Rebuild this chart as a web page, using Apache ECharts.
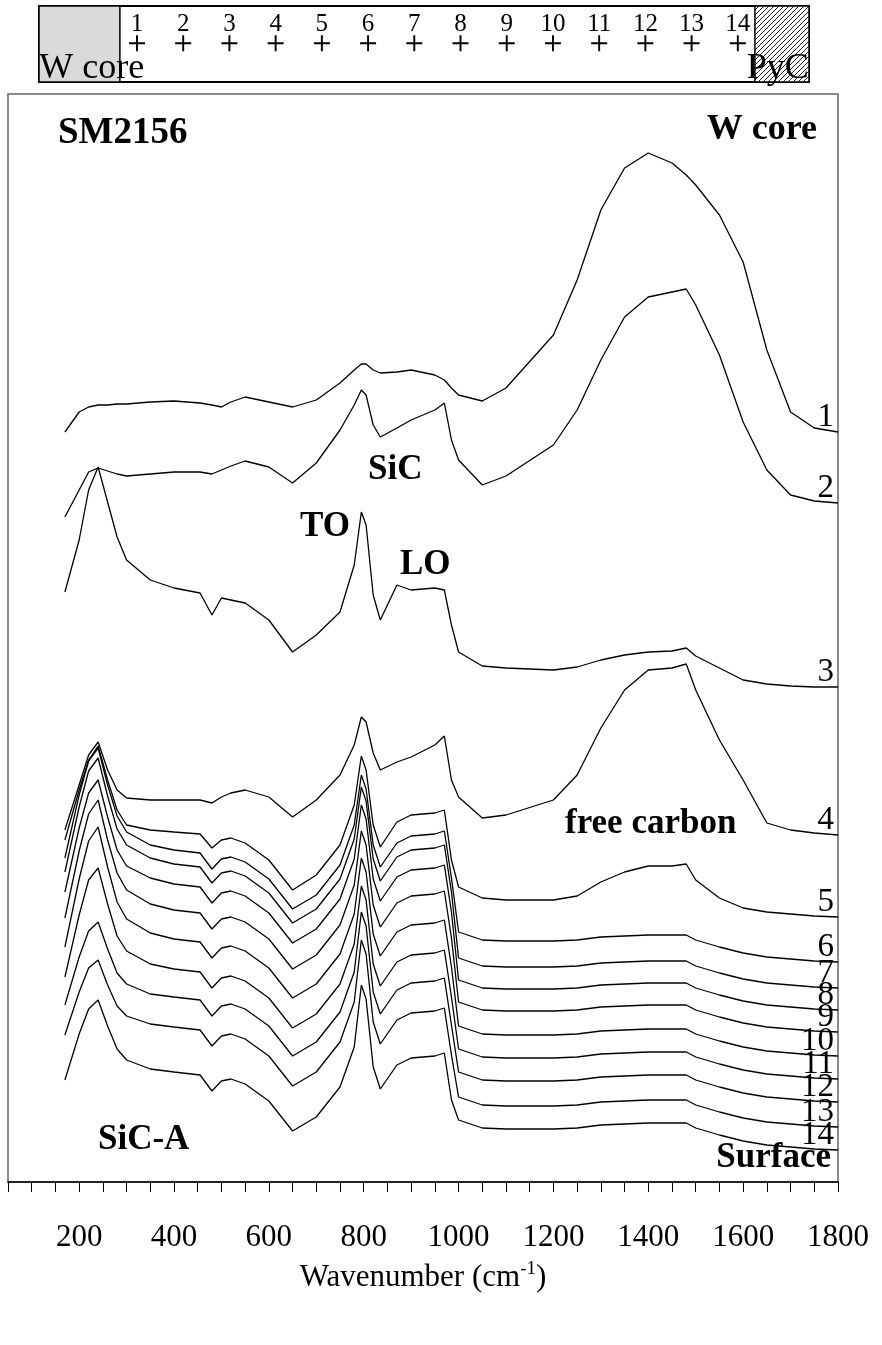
<!DOCTYPE html>
<html>
<head>
<meta charset="utf-8">
<script src="https://cdn.jsdelivr.net/npm/echarts@6/dist/echarts.min.js"></script>
<style>
  html, body { margin: 0; padding: 0; background: #fff; }
  #chart { width: 882px; height: 1345px; }
</style>
</head>
<body>
<div id="chart"></div>
<script>
// Raman shift grid (cm-1) shared by all spectra
const wavenumber = [170, 200, 220, 240, 260, 280, 300, 350, 400, 455, 480, 500, 520, 550, 600, 650, 700, 750, 780, 795, 805, 820, 835, 870, 900, 950, 970, 985, 1000, 1050, 1100, 1200, 1250, 1300, 1350, 1400, 1450, 1480, 1500, 1550, 1600, 1650, 1700, 1750, 1800];

// Offset intensities (a.u.), spectrum 1 = next to the W core, 14 = surface
const spectrum1  = [750,770,775,777,777,778,778,780,781,779,777,775,780,785,780,775,782,799,812,818,818,812,809,810,812,807,802,794,787,781,794,847,902,972,1014,1029,1019,1007,997,967,920,832,770,754,750];
const spectrum2  = [665,692,710,714,711,708,706,708,710,710,708,712,716,721,715,699,719,752,777,792,787,757,745,754,762,772,779,742,722,697,706,737,772,822,865,885,890,893,877,827,760,712,687,681,679];
const spectrum3  = [590,642,692,715,680,645,622,602,594,589,567,584,582,579,562,530,547,570,617,670,657,587,562,597,592,594,592,557,530,516,514,512,515,522,527,530,531,534,526,514,502,498,496,495,495];
const spectrum4  = [352,397,427,440,412,392,384,382,382,382,379,385,389,392,385,365,382,407,437,465,460,429,412,420,425,437,446,402,385,364,367,382,407,454,492,512,514,518,492,442,402,359,352,349,347];
const spectrum5  = [342,392,422,436,402,372,357,352,350,348,334,342,344,339,322,292,307,337,377,426,412,357,335,360,367,369,372,322,295,284,282,282,286,300,310,316,316,318,302,284,274,270,268,266,265];
const spectrum6  = [324,387,421,434,397,366,350,337,332,329,313,323,325,320,303,273,287,317,357,407,393,337,315,339,346,348,351,304,250,242,241,241,242,245,246,247,247,247,242,235,229,225,223,221,220];
const spectrum7  = [310,375,411,424,386,353,337,324,318,315,299,309,311,306,289,259,273,303,343,395,381,323,301,325,332,334,337,290,224,216,215,215,216,219,220,221,221,221,216,209,203,199,197,195,194];
const spectrum8  = [290,354,389,402,365,332,316,304,298,295,279,289,291,286,269,239,253,283,323,377,363,303,281,305,312,314,317,270,202,194,193,193,194,197,198,199,199,199,194,187,181,177,175,173,172];
const spectrum9  = [264,331,368,382,342,309,292,278,272,269,253,263,265,260,243,213,227,257,297,351,337,277,255,279,286,288,291,244,180,172,171,171,172,175,176,177,177,177,172,165,159,155,153,151,150];
const spectrum10 = [235,303,341,355,315,280,263,249,243,240,224,234,236,231,214,184,198,228,268,324,310,248,226,250,257,259,262,215,156,148,147,147,148,151,152,153,153,153,148,141,135,131,129,127,126];
const spectrum11 = [205,267,302,314,278,246,231,218,213,210,194,204,206,201,184,154,168,198,238,296,282,218,196,220,227,229,232,185,133,125,124,124,125,128,129,130,130,130,125,118,112,108,106,104,103];
const spectrum12 = [177,225,251,260,233,209,198,188,185,182,166,176,178,173,156,126,140,170,210,270,256,190,168,192,199,201,204,157,110,102,101,101,102,105,106,107,107,107,102,95,89,85,83,81,80];
const spectrum13 = [147,190,214,222,197,176,166,158,155,152,136,146,148,143,126,96,110,140,180,242,228,160,138,162,169,171,174,127,85,77,76,76,77,80,81,82,82,82,77,70,64,60,58,56,55];
const spectrum14 = [102,148,173,182,156,133,122,113,110,107,91,101,103,98,81,51,65,95,135,197,183,115,93,117,124,126,129,82,62,54,53,53,54,57,58,59,59,59,54,47,41,37,35,33,32];

const spectra = [spectrum1, spectrum2, spectrum3, spectrum4, spectrum5, spectrum6, spectrum7,
                 spectrum8, spectrum9, spectrum10, spectrum11, spectrum12, spectrum13, spectrum14];
const spectrumNames = ['1','2','3','4','5','6','7','8','9','10','11','12','13','14'];

// Measurement points across the fibre section (W core -> PyC coating)
const pointIndex = [1,2,3,4,5,6,7,8,9,10,11,12,13,14];
const coreSpan = [-1.12, 0.63];
const pycSpan = [14.37, 15.54];

const xTickLabels = [200, 400, 600, 800, 1000, 1200, 1400, 1600, 1800];

const FONT = '"Liberation Serif", "Times New Roman", serif';

// diagonal hatch tile for the PyC layer
const hatch = document.createElement('canvas');
hatch.width = 5; hatch.height = 5;
(function () {
  const c = hatch.getContext('2d');
  c.fillStyle = '#fff'; c.fillRect(0, 0, 5, 5);
  c.strokeStyle = '#222'; c.lineWidth = 1;
  c.beginPath();
  c.moveTo(0, 5); c.lineTo(5, 0);
  c.moveTo(-1, 1); c.lineTo(1, -1);
  c.moveTo(4, 6); c.lineTo(6, 4);
  c.stroke();
})();

const chart = echarts.init(document.getElementById('chart'));

const spectrumSeries = spectra.map((s, k) => ({
  type: 'line',
  name: spectrumNames[k],
  xAxisIndex: 0, yAxisIndex: 0,
  data: wavenumber.map((w, i) => [w, s[i]]),
  showSymbol: false,
  symbol: 'none',
  lineStyle: { color: '#000', width: 1.3 },
  silent: true,
  endLabel: {
    show: true,
    formatter: '{a}',
    color: '#000',
    fontFamily: FONT,
    fontSize: 33,
    align: 'right',
    verticalAlign: 'bottom',
    distance: 0,
    offset: [-4, 2]
  }
}));

const plusPath = 'path://M4.4,0 H5.6 V4.4 H10 V5.6 H5.6 V10 H4.4 V5.6 H0 V4.4 H4.4 Z';

const option = {
  animation: false,
  backgroundColor: '#fff',
  grid: [
    { left: 8, top: 94, width: 830, height: 1088, show: true, borderColor: '#666', borderWidth: 1.5, containLabel: false },
    { left: 39, top: 6, width: 770, height: 76, show: true, borderColor: '#000', borderWidth: 2, containLabel: false }
  ],
  xAxis: [
    {
      type: 'value', gridIndex: 0, min: 50, max: 1800, interval: 50,
      axisLine: { show: true, onZero: false, lineStyle: { color: '#000', width: 1.5 } },
      axisTick: { show: true, inside: false, length: 10, lineStyle: { color: '#000', width: 1 } },
      splitLine: { show: false },
      axisLabel: {
        margin: 40, fontFamily: FONT, fontSize: 31, color: '#000',
        formatter: v => (xTickLabels.indexOf(v) >= 0 ? String(v) : '')
      },
      name: '{a|Wavenumber (cm}{s|-1}{a|)}',
      nameLocation: 'middle',
      nameGap: 78,
      nameTextStyle: {
        rich: {
          a: { fontFamily: FONT, fontSize: 31, color: '#000', lineHeight: 36 },
          s: { fontFamily: FONT, fontSize: 19, color: '#000', verticalAlign: 'top', lineHeight: 36 }
        }
      }
    },
    { type: 'value', gridIndex: 1, min: coreSpan[0], max: pycSpan[1], show: false }
  ],
  yAxis: [
    { type: 'value', gridIndex: 0, min: 0, max: 1088, show: false },
    { type: 'value', gridIndex: 1, min: 0, max: 1, show: false }
  ],
  series: spectrumSeries.concat([
    {
      type: 'scatter',
      xAxisIndex: 1, yAxisIndex: 1,
      data: pointIndex.map(p => [p, 0.51]),
      symbol: plusPath,
      symbolSize: 16,
      itemStyle: { color: '#000', opacity: 1 },
      silent: true,
      label: {
        show: true, position: 'top', distance: -2,
        formatter: p => String(p.value[0]),
        fontFamily: FONT, fontSize: 25, color: '#000', opacity: 1
      },
      markArea: {
        silent: true,
        data: [
          [
            { xAxis: coreSpan[0], name: 'W core',
              itemStyle: { color: '#d9dadb', opacity: 1, borderColor: '#000', borderWidth: 1.5 },
              label: { position: 'insideBottomLeft', distance: 1, offset: [0, 5] } },
            { xAxis: coreSpan[1] }
          ],
          [
            { xAxis: pycSpan[0], name: 'PyC',
              itemStyle: { color: { image: hatch, repeat: 'repeat' }, opacity: 1, borderColor: '#000', borderWidth: 1.5 },
              label: { position: 'insideBottomRight', distance: 1, offset: [0, 5] } },
            { xAxis: pycSpan[1] }
          ]
        ],
        label: { show: true, fontFamily: FONT, fontSize: 36, color: '#000' }
      }
    }
  ]),
  graphic: [
    { type: 'text', x: 58, y: 133, style: { text: 'SM2156', font: 'bold 37px ' + FONT, fill: '#000', textVerticalAlign: 'middle' } },
    { type: 'text', x: 817, y: 130, style: { text: 'W core', font: 'bold 36px ' + FONT, fill: '#000', textAlign: 'right', textVerticalAlign: 'middle' } },
    { type: 'text', x: 368, y: 470, style: { text: 'SiC', font: 'bold 35px ' + FONT, fill: '#000', textVerticalAlign: 'middle' } },
    { type: 'text', x: 300, y: 527, style: { text: 'TO', font: 'bold 35px ' + FONT, fill: '#000', textVerticalAlign: 'middle' } },
    { type: 'text', x: 400, y: 565, style: { text: 'LO', font: 'bold 35px ' + FONT, fill: '#000', textVerticalAlign: 'middle' } },
    { type: 'text', x: 565, y: 824, style: { text: 'free carbon', font: 'bold 35px ' + FONT, fill: '#000', textVerticalAlign: 'middle' } },
    { type: 'text', x: 98, y: 1140, style: { text: 'SiC-A', font: 'bold 35px ' + FONT, fill: '#000', textVerticalAlign: 'middle' } },
    { type: 'text', x: 831, y: 1158, style: { text: 'Surface', font: 'bold 35px ' + FONT, fill: '#000', textAlign: 'right', textVerticalAlign: 'middle' } }
  ]
};

chart.setOption(option);
</script>
</body>
</html>
